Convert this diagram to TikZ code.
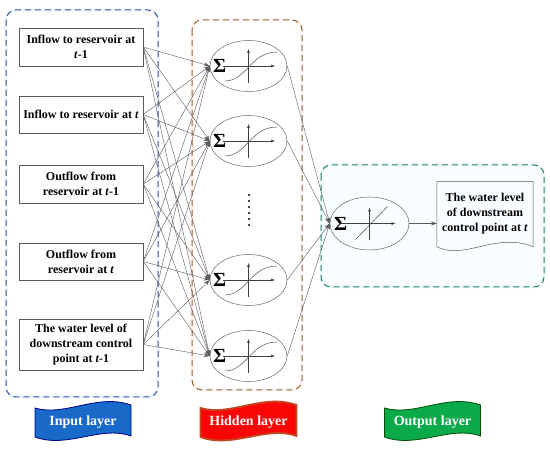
\documentclass[tikz,border=0pt]{standalone}
\usepackage{amsmath,amssymb}
\usepackage{fontspec}
\setmainfont{Liberation Serif}
\usetikzlibrary{arrows.meta,shapes.geometric,positioning}

\definecolor{inblue}{RGB}{55,80,165}
\definecolor{hidbrown}{RGB}{150,100,50}
\definecolor{outgreen}{RGB}{40,130,90}
\definecolor{flagblue}{RGB}{25,105,200}
\definecolor{flagred}{RGB}{250,5,5}
\definecolor{flaggreen}{RGB}{10,170,75}

\newcommand\LayerFlag[6]{%
  \filldraw[fill=#4, draw=#5, line width=#6]
    (#2-48,#3+5) .. controls (#2-18,#3+14) and (#2+14,#3-10) .. (#2+48,#3+2)
    -- (#2+48,#3+33) .. controls (#2+18,#3+22) and (#2-16,#3+46) .. (#2-48,#3+34) -- cycle;
  \node[flagtext] (#1) at (#2,#3+19) {\strut};
}

\begin{document}
\begin{tikzpicture}[x=1pt, y=-1pt]
        \tikzset{
          inputbox/.style={draw=black!65, line width=0.5pt, minimum width=124pt,
            align=center, inner sep=1pt, font=\bfseries\fontsize{12}{15}\selectfont},
          neuron/.style={ellipse, draw=black!60, line width=0.5pt, minimum width=77pt,
            minimum height=51pt, inner sep=0pt},
          sumsign/.style={font=\bfseries\fontsize{20}{20}\selectfont, inner sep=0pt},
          link/.style={draw=black!65, line width=0.4pt, -{Stealth[length=6pt,width=4pt]}},
          axis/.style={draw=black!75, line width=0.5pt, -{Latex[length=4pt,width=3pt]}},
          curve/.style={draw=black!70, line width=0.5pt},
          layerbox/.style={dash pattern=on 6pt off 4pt, rounded corners=10pt, line width=1pt},
          glow/.style={rounded corners=10pt, line width=3pt, draw=#1},
          flagtext/.style={text=white, font=\bfseries\fontsize{14}{14}\selectfont, inner sep=0pt},
          sigmoid/.pic={
            \draw[axis] (-25.5,0) -- (26.5,0);
            \draw[axis] (0,17) -- (0,-17);
            \draw[curve] (-23.5,15) .. controls (-2,15) and (2,-14) .. (28.5,-14);
          },
          linear/.pic={
            \draw[axis] (-29,0) -- (26,0);
            \draw[axis] (0,17) -- (0,-16);
            \draw[curve] (-14,16) -- (18,-17);
          }
        }
        \useasboundingbox (0,0) rectangle (550,449);
        \draw[glow=cyan!7] (6,10) rectangle (158,397);
        \draw[glow=pink!18] (192,20) rectangle (302,390);
        \draw[glow=cyan!7] (321,165) rectangle (544,287);
        \fill[cyan!2, rounded corners=10pt] (323,167) rectangle (542,285);
        \draw[layerbox, inblue] (6,10) rectangle (158,397);
        \draw[layerbox, hidbrown] (192,20) rectangle (302,390);
        \draw[layerbox, outgreen] (321,165) rectangle (544,287);

        \node[inputbox, minimum height=38pt] (in1) at (81,47) {Inflow to reservoir at\\\textit{t}-1};
        \node[inputbox, minimum height=37pt] (in2) at (81,114.5) {Inflow to reservoir at \textit{t}};
        \node[inputbox, minimum height=38pt] (in3) at (81,184) {Outflow from\\reservoir at \textit{t}-1};
        \node[inputbox, minimum height=37pt] (in4) at (81,261.5) {Outflow from\\reservoir at \textit{t}};
        \node[inputbox, minimum height=51pt] (in5) at (81,344.5) {The water level of\\downstream control\\point at \textit{t}-1};

        \node[neuron] (hid1) at (248.5,66) {};
        \node[neuron] (hid2) at (248.5,141) {};
        \node[neuron] (hid3) at (248.5,280) {};
        \node[neuron] (hid4) at (248.5,356) {};
        \foreach \j in {1,...,4} {
          \pic at (hid\j) {sigmoid};
          \node[sumsign] (sum\j) at ([xshift=10pt]hid\j.west) {Σ};
        }
        \foreach \d in {0,...,5}
          \fill (249,195+\d*6) circle (1.1pt);

        \node[neuron, minimum width=79pt, minimum height=53pt] (outn) at (369.5,223.5) {};
        \pic at (outn) {linear};
        \node[sumsign] (sumout) at ([xshift=11pt]outn.west) {Σ};

        \node[minimum width=96pt, minimum height=65pt, inner sep=0pt, align=center,
          font=\bfseries\fontsize{12}{15}\selectfont] (doc) at (485,214)
          {The water level\\of downstream\\control point at \textit{t}};
        \draw[draw=black!65, line width=0.5pt] (doc.south west) -- (doc.north west) -- (doc.north east)
          -- (doc.south east) .. controls +(-38,-15) and +(28,14) .. (doc.south west);

        \foreach \i in {1,...,5}
          \foreach \j in {1,...,4}
            \draw[link] (in\i.east) -- (hid\j.west);
        \foreach \j in {1,...,4}
          \draw[link] (hid\j.east) -- (outn.west);
        \draw[link] (outn.east) -- (outn.east -| doc.west);

        \LayerFlag{flagin}{83}{403}{flagblue}{blue!55!black}{0.8pt}
        \node[flagtext] at (flagin) {Input layer};
        \LayerFlag{flaghid}{248.5}{403}{flagred}{red!40!brown!90!black}{1.8pt}
        \node[flagtext] at (flaghid) {Hidden layer};
        \LayerFlag{flagout}{432.5}{403}{flaggreen}{green!30!black}{0.8pt}
        \node[flagtext] at (flagout) {Output layer};
    \end{tikzpicture}
\end{document}
